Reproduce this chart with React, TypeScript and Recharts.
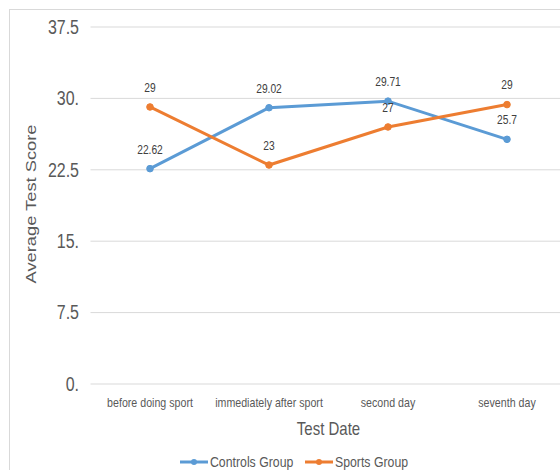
import React from 'react';
import { LineChart, Line, XAxis, YAxis, CartesianGrid, Legend, LabelList } from 'recharts';

const categories = ['before doing sport', 'immediately after sport', 'second day', 'seventh day'];
const controlsScores = [22.62, 29.02, 29.71, 25.7];
const sportsScores = [29.1, 23, 27, 29.35];
const controlsLabels = ['22.62', '29.02', '29.71', '25.7'];
const sportsLabels = ['29', '23', '27', '29'];
const yTicks = [0, 7.5, 15, 22.5, 30, 37.5];
const yTickLabels = ['0.', '7.5', '15.', '22.5', '30.', '37.5'];
const seriesNames = ['Controls Group', 'Sports Group'];
const seriesColors = ['#5B9BD5', '#ED7D31'];
const xTitle = 'Test Date';
const yTitle = 'Average Test Score';

const data = categories.map((c, i) => ({
  category: c,
  controls: controlsScores[i],
  sports: sportsScores[i],
  controlsLabel: controlsLabels[i],
  sportsLabel: sportsLabels[i],
}));

const FONT = "'Liberation Sans', Arial, sans-serif";
const GREY = '#595959';
const SQUISH = 0.82;

const NText = (p: { x: number; y: number; anchor?: string; size: number; fill?: string; children: any }) => (
  <text
    transform={`translate(${p.x}, ${p.y}) scale(${SQUISH}, 1)`}
    x={0}
    y={0}
    dy="0.35em"
    textAnchor={(p.anchor || 'middle') as any}
    fontFamily={FONT}
    fontSize={p.size}
    fill={p.fill || GREY}
  >
    {p.children}
  </text>
);

const XTick = (props: any) => {
  const { x, y, payload } = props;
  return <NText x={x} y={y + 18} size={13}>{payload.value}</NText>;
};

const YTick = (props: any) => {
  const { x, y, payload } = props;
  const idx = yTicks.indexOf(payload.value);
  return (
    <NText x={x - 11.5} y={y} anchor="end" size={19.5}>
      {idx >= 0 ? yTickLabels[idx] : String(payload.value)}
    </NText>
  );
};

const XTitle = (props: any) => {
  const vb = props.viewBox || { x: 0, y: 0, width: 0, height: 0 };
  return <NText x={vb.x + vb.width / 2} y={vb.y + 45} size={18.3}>{xTitle}</NText>;
};

const YTitle = (props: any) => {
  const vb = props.viewBox || { x: 0, y: 0, width: 0, height: 0 };
  const cx = vb.x + 25.7;
  const cy = vb.y + vb.height / 2 - 1.5;
  return (
    <text
      transform={`translate(${cx}, ${cy}) rotate(-90) scale(1, ${SQUISH})`}
      x={0}
      y={0}
      textAnchor="middle"
      fontFamily={FONT}
      fontSize={18.3}
      fill={GREY}
    >
      {yTitle}
    </text>
  );
};

const PointLabel = (props: any) => {
  const { x, y, value } = props;
  return <NText x={x} y={y - 19.5} size={12.5} fill="#404040">{value}</NText>;
};

const legendItems = [
  { iconX: 170, textX: 200 },
  { iconX: 295, textX: 325 },
];

const LegendContent = () => (
  <svg width={568} height={16} style={{ display: 'block' }}>
    {seriesNames.map((n, i) => (
      <g key={n}>
        <line x1={legendItems[i].iconX} y1={8} x2={legendItems[i].iconX + 28} y2={8} stroke={seriesColors[i]} strokeWidth={3} />
        <circle cx={legendItems[i].iconX + 14} cy={8} r={3} fill={seriesColors[i]} />
        <NText x={legendItems[i].textX} y={8} anchor="start" size={15}>{n}</NText>
      </g>
    ))}
  </svg>
);

export default function App() {
  return (
    <div
      style={{
        position: 'fixed',
        left: 9,
        top: 9,
        width: 551,
        height: 461,
        overflow: 'hidden',
        borderTop: '1px solid #d9d9d9',
        borderLeft: '1px solid #d9d9d9',
        boxSizing: 'border-box',
        background: '#fff',
      }}
    >
      <LineChart width={600} height={460} data={data} margin={{ top: 17, right: 43.5, bottom: 0, left: 0 }}>
        <CartesianGrid vertical={false} stroke="#d9d9d9" strokeWidth={1} />
        <XAxis
          dataKey="category"
          axisLine={false}
          tickLine={false}
          tickSize={0}
          tickMargin={0}
          height={70}
          padding={{ left: 59.5, right: 59.5 }}
          tick={XTick}
          interval={0}
          label={{ content: XTitle }}
        />
        <YAxis
          domain={[0, 37.5]}
          ticks={yTicks}
          axisLine={false}
          tickLine={false}
          tickSize={0}
          tickMargin={0}
          width={80.5}
          tick={YTick}
          interval={0}
          label={{ content: YTitle }}
        />
        <Legend
          verticalAlign="bottom"
          content={LegendContent}
          wrapperStyle={{ left: 0, width: 568, height: 16 }}
        />
        <Line
          type="linear"
          dataKey="controls"
          name={seriesNames[0]}
          stroke={seriesColors[0]}
          strokeWidth={3}
          dot={{ r: 3.3, fill: seriesColors[0], stroke: seriesColors[0], strokeWidth: 1 }}
          activeDot={false}
          isAnimationActive={false}
        >
          <LabelList dataKey="controlsLabel" content={PointLabel} />
        </Line>
        <Line
          type="linear"
          dataKey="sports"
          name={seriesNames[1]}
          stroke={seriesColors[1]}
          strokeWidth={3}
          dot={{ r: 3.3, fill: seriesColors[1], stroke: seriesColors[1], strokeWidth: 1 }}
          activeDot={false}
          isAnimationActive={false}
        >
          <LabelList dataKey="sportsLabel" content={PointLabel} />
        </Line>
      </LineChart>
    </div>
  );
}
